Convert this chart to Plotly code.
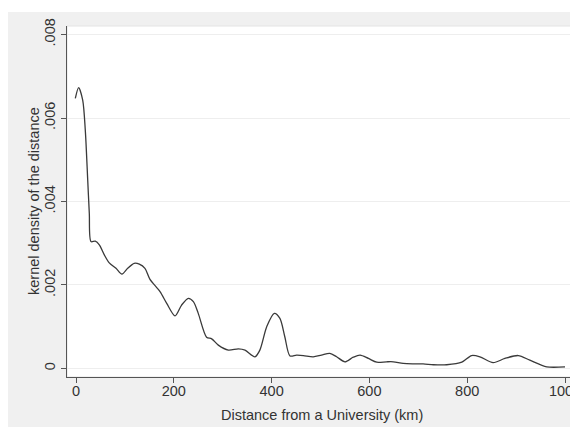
import plotly.graph_objects as go

# Kernel density estimate
distance_km = [-1.4, 5.4, 13.7, 19, 24, 27.2, 30.7, 39.5, 47.7, 57.9, 68, 81.8, 94,
               105.7, 119, 129.5, 141, 151, 171.8, 185.5, 202.5, 216, 229.7, 240, 250,
               267, 277.5, 291, 311.5, 332, 345.6, 366, 376, 390, 405.5, 417, 427,
               437.6, 451, 465, 485, 502, 519, 533, 550, 567, 581, 598, 615, 635, 649,
               669, 690, 710, 731, 758, 789, 809, 826, 853, 877, 904.5, 928, 962.6, 1000]
density = [0.00647, 0.00673, 0.00643, 0.00571, 0.00451, 0.00372, 0.00304, 0.00305, 0.00296,
           0.00272, 0.00253, 0.00240, 0.00226, 0.00240, 0.00252, 0.00250, 0.00240, 0.00214,
           0.00184, 0.00156, 0.00126, 0.00152, 0.00168, 0.00160, 0.00132, 0.00075, 0.00071,
           0.00056, 0.00044, 0.00047, 0.00044, 0.00028, 0.00044, 0.00100, 0.00132, 0.00120,
           0.00076, 0.00030, 0.00032, 0.00031, 0.00028, 0.00032, 0.00036, 0.00028, 0.00016,
           0.00027, 0.00032, 0.00024, 0.00015, 0.00016, 0.00016, 0.00012, 0.00011, 0.00011,
           0.00009, 0.00009, 0.00015, 0.00031, 0.00028, 0.00014, 0.00024, 0.00031, 0.00020,
           0.00004, 0.00004]

x_ticks = [0, 200, 400, 600, 800, 1000]
x_tick_labels = ["0", "200", "400", "600", "800", "1000"]
y_ticks = [0, 0.002, 0.004, 0.006, 0.008]
y_tick_labels = ["0", ".002", ".004", ".006", ".008"]

x_title = "Distance from a University (km)"
y_title = "kernel density of the distance"

FONT = "Liberation Sans, Arial, sans-serif"
W, H = 570, 419
ML, MR, MT, MB = 59, 2, 18, 50
PW, PH = W - ML - MR, H - MT - MB
TXT = "#333333"

fig = go.Figure()
fig.add_trace(go.Scatter(
    x=distance_km, y=density, mode="lines",
    line=dict(color="#3a3a3a", width=1.3, shape="spline", smoothing=0.8),
    hoverinfo="skip", showlegend=False,
))

fig.update_layout(
    width=W, height=H,
    margin=dict(l=ML, r=MR, t=MT, b=MB, pad=0, autoexpand=False),
    paper_bgcolor="#f0f0f0",
    plot_bgcolor="#ffffff",
    font=dict(family=FONT, size=14.5, color=TXT),
    xaxis=dict(
        range=[-18.4, 1022.5],
        tickvals=x_ticks, ticktext=x_tick_labels,
        ticks="outside", ticklen=5, tickcolor="#555555", tickwidth=1,
        showline=True, linecolor="#555555", linewidth=1,
        showgrid=False, zeroline=False, automargin=False,
        ticklabeloverflow="allow", ticklabelstandoff=-4,
        tickfont=dict(size=14.5, color=TXT),
    ),
    yaxis=dict(
        range=[-0.000204, 0.008204],
        tickvals=y_ticks, ticktext=y_tick_labels,
        tickangle=-90,
        ticks="outside", ticklen=5, tickcolor="#555555", tickwidth=1,
        showline=True, linecolor="#555555", linewidth=1,
        showgrid=True, gridcolor="#eeeeee", gridwidth=1,
        zeroline=False, automargin=False,
        tickfont=dict(size=14.5, color=TXT),
    ),
    annotations=[
        dict(text=x_title, xref="paper", yref="paper", x=0.5, y=(369 - 407) / PH,
             xanchor="center", yanchor="middle", showarrow=False,
             font=dict(size=14.5, color=TXT)),
        dict(text=y_title, xref="paper", yref="paper", x=(25.5 - ML) / PW, y=0.5,
             xanchor="center", yanchor="middle", showarrow=False, textangle=-90,
             font=dict(size=14.5, color=TXT)),
    ],
    shapes=[
        # thin white strip above the grey outer region
        dict(type="rect", xref="paper", yref="paper",
             x0=-ML / PW, x1=(W - ML) / PW, y0=(H - MB - 4) / PH, y1=(H - MB + 2) / PH,
             fillcolor="#ffffff", line=dict(width=0), layer="below"),
        # faint plot-region outline
        dict(type="rect", xref="paper", yref="paper", x0=0, x1=1, y0=0, y1=1,
             fillcolor="rgba(0,0,0,0)", line=dict(color="#e4e4e4", width=1), layer="below"),
    ],
)

fig.write_html("out.html")
